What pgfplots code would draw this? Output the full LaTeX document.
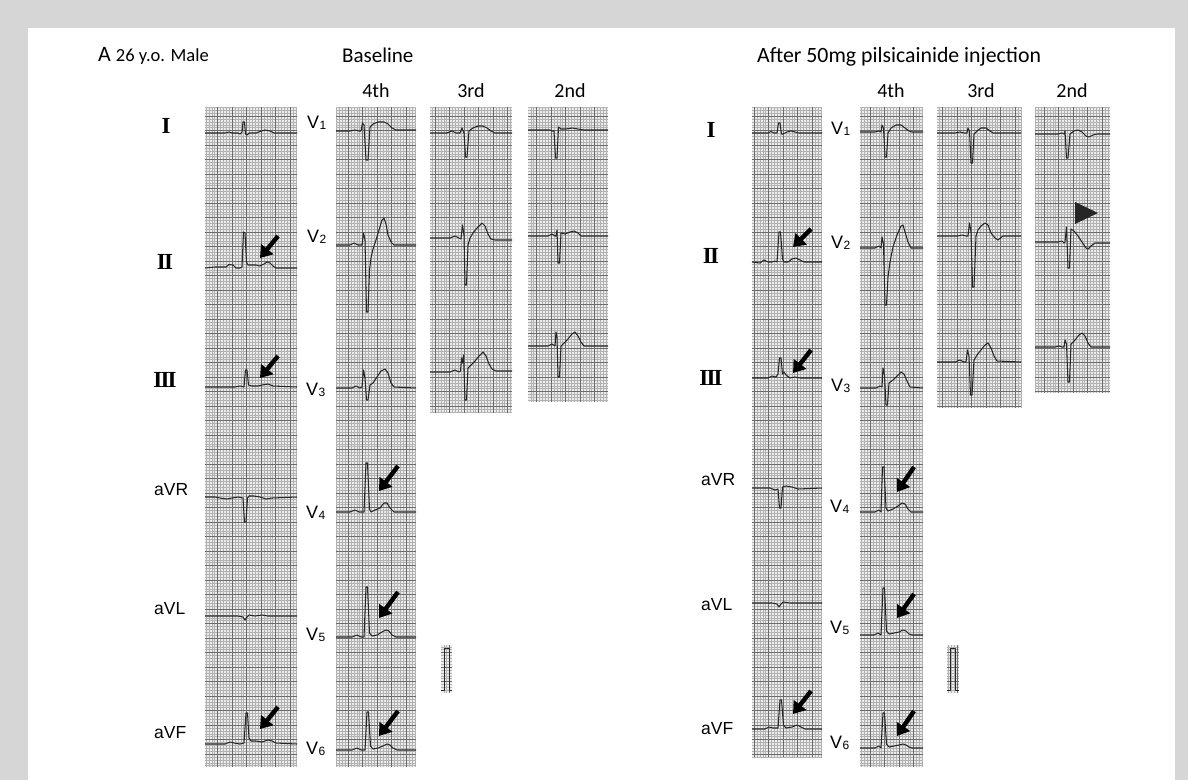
\documentclass[border=0pt]{standalone}
\usepackage{pgfplots}
\pgfplotsset{compat=1.18}
\usepackage{fontspec}
\setmainfont{Carlito}
\newfontfamily\arialf{Liberation Sans}
\newfontfamily\timesf{Liberation Serif}
\usetikzlibrary{arrows.meta}
\newcommand{\strip}[4]{%
  \fill[black!8] (#1,#2) rectangle (#3,#4);
  \draw[black!30,line width=0.25bp,step=2.9bp] (#1,#4) grid (#3,#2);
  \draw[black!58,line width=0.5bp,step=14.5bp] (#1,#4) grid (#3,#2);}
\newcommand{\Vlab}[3]{\node[anchor=base west,inner sep=0] at (#1,#2) {\arialf\fontsize{18bp}{18bp}\selectfont V\kern0.5bp\raisebox{-1bp}{\fontsize{12bp}{12bp}\selectfont #3}};}
\newcommand{\Alab}[3]{\node[anchor=base west,inner sep=0] at (#1,#2) {\arialf\fontsize{17.5bp}{17.5bp}\selectfont #3};}
\newcommand{\Rlab}[3]{\node[anchor=base,inner sep=0] at (#1,#2) {\timesf\bfseries\fontsize{23bp}{23bp}\selectfont #3};}
\newcommand{\Arr}[4]{\draw[black,line width=4.4bp,-{Triangle[length=11.5bp,width=15.5bp]}] (#1,#2) -- (#3,#4);}
\begin{document}
\begin{tikzpicture}
\begin{scope}[yshift=780bp,x=1bp,y=-1bp]
\fill[black!16] (0,0) rectangle (1188,780);
\fill[white] (28,28) rectangle (1175,780);
% baseline strips
\strip{205}{107}{297}{767}
\strip{336}{107}{416}{767}
\strip{430}{107}{512}{413}
\strip{528}{107}{608}{402}
\strip{441}{645}{452}{693}
% after strips
\strip{752}{107}{822}{757}
\strip{860}{107}{923}{767}
\strip{937}{107}{1021}{408}
\strip{1035}{107}{1110}{393}
\strip{947}{645}{959}{693}
\end{scope}
\begin{axis}[at={(0,0)},anchor=south west,scale only axis,width=1188bp,height=780bp,
  xmin=0,xmax=1188,ymin=0,ymax=780,y dir=reverse,hide axis,clip=false,
  ecg/.style={black!85,line width=1.05bp,no markers,line join=round}]
% ---------- Baseline limb leads
\addplot[ecg] coordinates {(205,133)(225,133)(229,132)(232,133)(238,133)(240,134)(242,132)(243,122)(244.5,122)(245.5,134)(247,135)(249,133)(256,133)(260,131.5)(265,130)(270,131)(274,133)(297,133)};
\addplot[ecg] coordinates {(205,268)(215,267)(226,267)(229,264.5)(233,265)(236,268)(240,268)(242,267)(243.5,232)(245,233)(246.5,262)(248,265)(252,265)(256,265)(260,266)(264,264)(267,262)(270,263)(273,266)(276,268)(297,268)};
\addplot[ecg] coordinates {(205,387)(235,387)(240,386)(244,387)(245.5,370)(247,370)(248.5,385)(252,386)(258,386)(262,385)(268,384)(273,386)(297,387)};
\addplot[ecg] coordinates {(205,497)(215,497)(220,498)(227,499)(232,498)(238,497)(243,498)(244.5,522)(246,522)(247.5,498)(249,496)(254,496)(260,497)(266,499)(272,498)(297,497)};
\addplot[ecg] coordinates {(205,616)(238,616)(243,617)(245,620)(247,617)(249,615)(255,616)(262,615)(268,616)(297,616)};
\addplot[ecg] coordinates {(205,744)(225,744)(230,742)(234,743)(240,744)(244,743)(246,713)(247.5,713)(249,738)(251,741)(256,741)(262,742)(268,740)(272,741)(276,743)(297,744)};
% ---------- Baseline V 4th
\addplot[ecg] coordinates {(336,131)(350,131)(355,130)(359,131)(361,131)(362.5,123)(364,125)(366,160)(368,160)(370,127)(373,124)(378,122)(384,122)(388,124)(392,128)(396,130)(416,130)};
\addplot[ecg] coordinates {(336,245)(350,245)(354,243)(358,245)(362,245)(363.5,233)(365,240)(366.5,312)(368,312)(369.5,270)(371,258)(373,249)(376,240)(379,230)(382,220)(384,218)(386,224)(388,235)(391,242)(394,245)(416,245)};
\addplot[ecg] coordinates {(336,388)(352,388)(356,386)(360,388)(362,387)(363.5,370)(365,378)(366.5,400)(368,400)(370,385)(373,383)(377,377)(381,371)(385,369)(388,373)(391,383)(394,387)(416,388)};
\addplot[ecg] coordinates {(336,512)(350,512)(355,510)(359,512)(364,512)(366,463)(367.5,463)(369.5,509)(371,512)(375,510)(380,508)(384,503)(387,503)(390,508)(394,512)(416,512)};
\addplot[ecg] coordinates {(336,637)(352,637)(357,635)(361,637)(364,637)(366,587)(367.5,587)(369.5,633)(372,636)(377,635)(382,632)(386,630)(389,631)(392,635)(396,637)(416,637)};
\addplot[ecg] coordinates {(336,750)(352,750)(357,748)(361,750)(365,750)(367,712)(368.5,712)(370.5,746)(373,749)(378,748)(383,746)(387,744)(390,745)(393,748)(397,750)(416,750)};
% ---------- Baseline 3rd
\addplot[ecg] coordinates {(430,133)(447,133)(452,131)(456,133)(460,133)(462,128)(464,133)(465.5,157)(467,157)(469,131)(473,128)(478,126)(483,126)(487,128)(491,131)(495,133)(512,133)};
\addplot[ecg] coordinates {(430,238)(450,238)(455,236)(459,238)(461,239)(462.5,225)(464,235)(465,285)(466.5,285)(468,245)(470,238)(473,233)(477,228)(482,223)(485,226)(488,234)(491,239)(495,240)(512,240)};
\addplot[ecg] coordinates {(430,372)(450,372)(455,370)(459,372)(460.5,371)(461.5,358)(462.5,363)(463.5,355)(465,400)(466.5,400)(468,368)(471,365)(475,361)(479,356)(483,352)(486,356)(489,364)(492,369)(496,371)(512,371)};
% ---------- Baseline 2nd
\addplot[ecg] coordinates {(528,130)(550,130)(552,131)(554,131)(555.5,158)(557,158)(558.5,127)(561,129)(566,129)(572,128)(578,129)(584,130)(608,130)};
\addplot[ecg] coordinates {(528,236)(548,236)(552,234)(555,236)(556,236)(557,230)(558,263)(559.5,263)(561,233)(565,234)(570,232)(574,231)(578,233)(581,236)(608,236)};
\addplot[ecg] coordinates {(528,346)(548,346)(552,344)(555,346)(556,332)(557,337)(558,377)(559.5,377)(561,346)(564,343)(568,339)(572,334)(575,332)(578,336)(581,342)(584,346)(608,346)};
% ---------- After limb leads
\addplot[ecg] coordinates {(752,133)(768,133)(771,131.5)(774,133)(777,133)(778.5,123)(780,123)(781.5,134)(783,134)(787,132)(791,131)(795,132)(799,133)(822,133)};
\addplot[ecg] coordinates {(752,262)(760,263)(764,260)(768,262)(772,262)(775,261)(777,262)(779,232)(780.5,232)(782.5,259)(784,262)(788,262)(792,259)(796,258)(800,260)(804,262)(822,262)};
\addplot[ecg] coordinates {(752,378)(768,378)(772,376)(776,377)(778,374)(779.5,358)(781,358)(782.5,374)(784,372)(786,375)(790,378)(795,377)(800,378)(822,378)};
\addplot[ecg] coordinates {(752,488)(770,488)(775,490)(778,489)(779.5,508)(781,508)(782.5,487)(786,486)(792,487)(798,489)(822,488)};
\addplot[ecg] coordinates {(752,603)(772,603)(777,604)(779,607)(781,604)(783,602)(790,603)(822,603)};
\addplot[ecg] coordinates {(752,729)(765,729)(769,727)(773,728)(778,728)(780,700)(781.5,700)(783.5,725)(786,728)(792,727)(797,725)(801,727)(805,729)(822,729)};
% ---------- After V 4th
\addplot[ecg] coordinates {(860,132)(875,132)(879,131)(881,132)(882,125)(883.5,128)(885,157)(886.5,157)(888,133)(891,128)(896,125)(901,125)(905,128)(909,131)(912,132)(923,132)};
\addplot[ecg] coordinates {(860,248)(875,248)(879,246)(881,248)(882,237)(883.5,244)(885,305)(886.5,305)(888,277)(890,262)(893,247)(897,235)(901,226)(903,225)(905,232)(908,242)(911,248)(923,248)};
\addplot[ecg] coordinates {(860,388)(876,388)(880,386)(882,387)(883,368)(884.5,375)(886,405)(887.5,405)(889,383)(893,380)(897,376)(901,372)(904,374)(907,381)(910,387)(923,388)};
\addplot[ecg] coordinates {(860,512)(875,512)(879,510)(881,512)(882.5,467)(884,467)(886,508)(888,511)(893,509)(898,506)(902,503)(905,504)(908,509)(911,512)(923,512)};
\addplot[ecg] coordinates {(860,635)(874,635)(878,633)(881,635)(883,588)(884.5,588)(886.5,631)(889,634)(894,633)(899,632)(903,630)(906,631)(909,634)(912,635)(923,635)};
\addplot[ecg] coordinates {(860,748)(875,748)(879,746)(881,748)(883,713)(884.5,713)(886.5,744)(889,747)(894,746)(899,745)(903,744)(906,745)(909,747)(912,748)(923,748)};
% ---------- After 3rd
\addplot[ecg] coordinates {(937,133)(955,133)(960,132)(964,133)(967,133)(968,128)(969.5,131)(971,163)(972.5,163)(974,134)(977,131)(981,128)(986,128)(990,131)(993,133)(1021,133)};
\addplot[ecg] coordinates {(937,236)(958,236)(962,235)(966,236)(968,236)(969.5,223)(971,232)(972.5,287)(974,287)(976,236)(978,230)(981,226)(985,223)(988,225)(991,233)(995,238)(998,240)(1003,236)(1021,236)};
\addplot[ecg] coordinates {(937,362)(955,362)(960,360)(964,362)(966,362)(967.5,350)(969,356)(970.5,395)(972,395)(974,360)(977,355)(981,350)(985,345)(988,343)(991,348)(994,356)(997,361)(1021,362)};
% ---------- After 2nd
\addplot[ecg] coordinates {(1035,134)(1058,134)(1062,133)(1064,134)(1065,131)(1066.5,158)(1068,158)(1070,134)(1074,131)(1078,130)(1082,132)(1086,136)(1089,137)(1093,135)(1097,134)(1110,134)};
\addplot[ecg] coordinates {(1035,242)(1058,242)(1062,241)(1064,243)(1065,242)(1066.5,227)(1068,268)(1069.5,268)(1071,229)(1074,231)(1078,236)(1082,242)(1086,248)(1088,249)(1091,246)(1095,243)(1110,243)};
\addplot[ecg] coordinates {(1035,347)(1055,347)(1059,346)(1062,347)(1064,347)(1065,340)(1066.5,344)(1068,382)(1069.5,382)(1071,344)(1075,340)(1079,335)(1082,333)(1085,336)(1088,343)(1091,347)(1110,347)};
% ---------- calibration pulses
\addplot[ecg,line width=0.8bp] coordinates {(441,690)(444,690)(444,648)(449,648)(449,690)(452,690)};
\addplot[ecg,line width=0.8bp] coordinates {(947,690)(950,690)(950,648)(955,648)(955,690)(959,690)};
\end{axis}
\begin{scope}[yshift=780bp,x=1bp,y=-1bp]
% headers
\node[anchor=base west,inner sep=0] at (98,62) {\fontsize{22bp}{22bp}\selectfont A\kern5bp\fontsize{18.5bp}{18.5bp}\selectfont 26 y.o. Male};
\node[anchor=base west,inner sep=0] at (342,63) {\fontsize{21bp}{21bp}\selectfont Baseline};
\node[anchor=base west,inner sep=0] at (757,63) {\fontsize{21.8bp}{21.8bp}\selectfont After 50mg pilsicainide injection};
\foreach \x/\t in {376/4th,471/3rd,570/2nd,891/4th,981/3rd,1072/2nd}
  \node[anchor=base,inner sep=0] at (\x,98) {\fontsize{20bp}{20bp}\selectfont \t};
% limb labels
\Rlab{166}{134}{I}
\Rlab{165}{270}{I\kern-1.8bp I}
\Rlab{165}{388}{I\kern-1.8bp I\kern-1.8bp I}
\Alab{154}{496}{aVR}
\Alab{154}{615}{aVL}
\Alab{154}{739}{aVF}
\Rlab{711}{138}{I}
\Rlab{711}{264}{I\kern-1.8bp I}
\Rlab{711}{386}{I\kern-1.8bp I\kern-1.8bp I}
\Alab{701}{486}{aVR}
\Alab{701}{611}{aVL}
\Alab{701}{735}{aVF}
% V labels
\Vlab{307}{129}{1}
\Vlab{307}{243}{2}
\Vlab{306}{396}{3}
\Vlab{306}{519}{4}
\Vlab{306}{641}{5}
\Vlab{306}{755}{6}
\Vlab{831}{135}{1}
\Vlab{831}{249}{2}
\Vlab{831}{392}{3}
\Vlab{830}{513}{4}
\Vlab{830}{634}{5}
\Vlab{830}{749}{6}
% arrows
\Arr{278}{236}{260}{258}
\Arr{278}{356}{260}{378}
\Arr{278}{707}{260}{729}
\Arr{398}{466}{379}{491}
\Arr{398}{592}{379}{618}
\Arr{398}{711}{379}{736}
\Arr{811}{229}{793}{247}
\Arr{811}{350}{793}{373}
\Arr{811}{691}{793}{714}
\Arr{914}{467}{897}{492}
\Arr{914}{594}{897}{618}
\Arr{914}{711}{897}{736}
\fill[black!85] (1075,202) -- (1075,224) -- (1098,213) -- cycle;
\end{scope}
\end{tikzpicture}
\end{document}
